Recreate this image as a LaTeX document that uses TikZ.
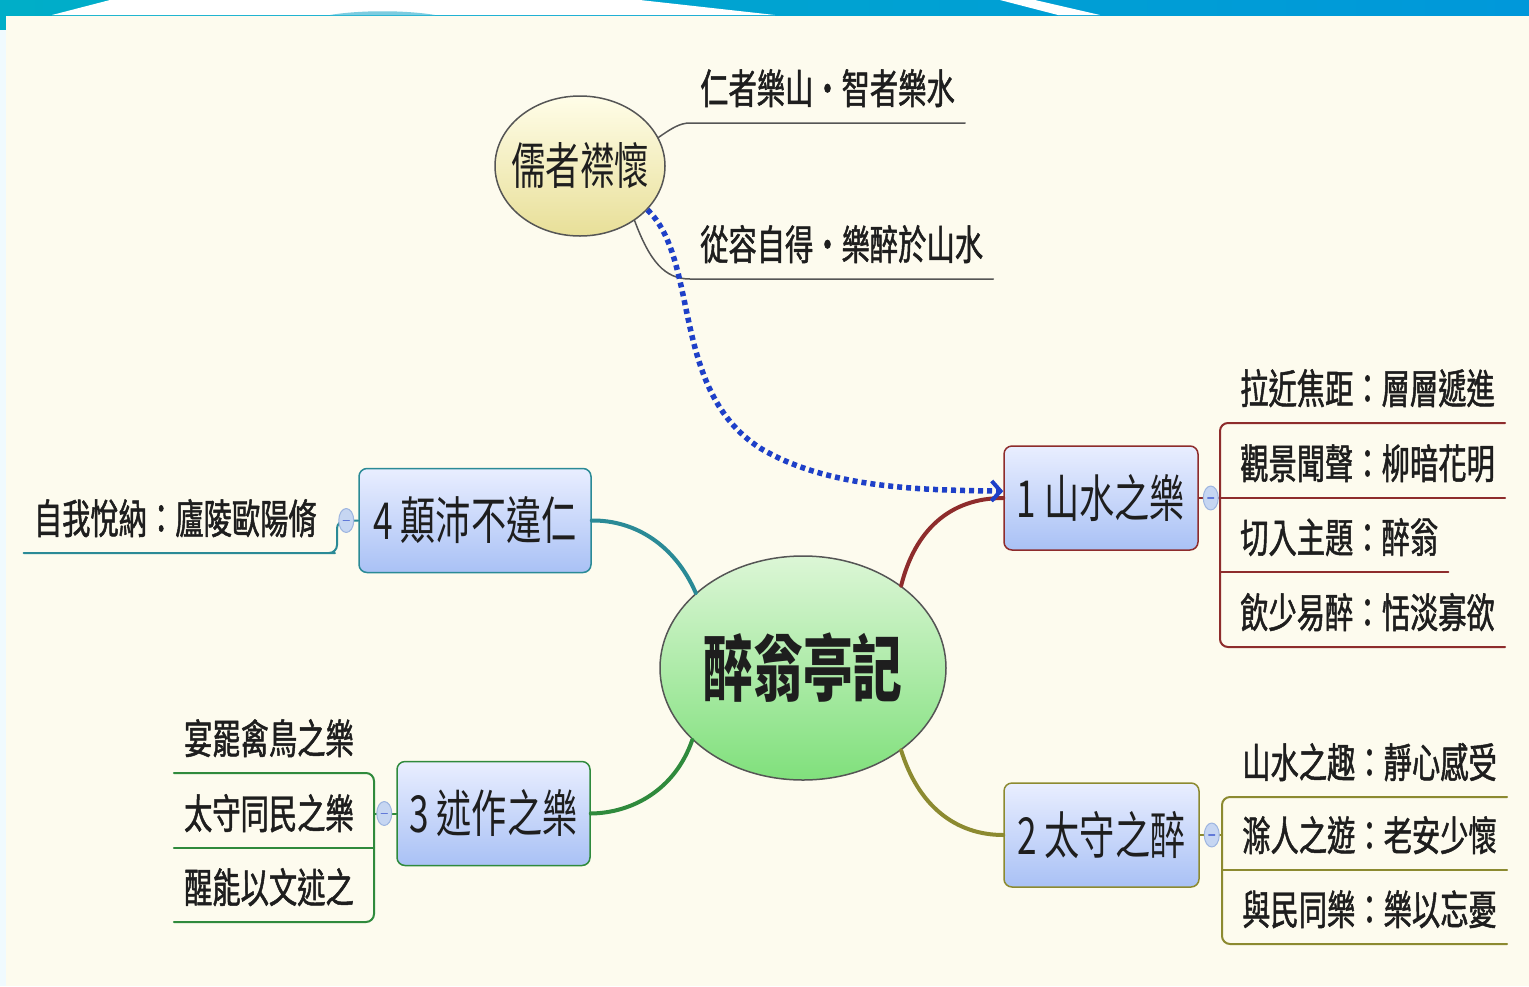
\documentclass[tikz,border=0pt]{standalone}
\usepackage{fontspec}
\usepackage{tikz}
\usetikzlibrary{positioning, shapes.geometric, arrows.meta}

\newfontfamily\cjk[FakeStretch=0.69]{Noto Sans CJK TC}
\newfontfamily\cjkleaf[FakeStretch=0.69, FakeBold=1.2]{Noto Sans CJK TC}
\newcommand\hubfont{\cjk\bfseries\fontsize{72pt}{72pt}\selectfont}
\newcommand\boxfont{\cjk\fontsize{51pt}{51pt}\selectfont}
\newcommand\thinkfont{\cjk\fontsize{50pt}{50pt}\selectfont}
\newcommand\leaffont{\cjkleaf\fontsize{41pt}{41pt}\selectfont}

\definecolor{paper}{HTML}{FDFBEE}
\definecolor{ink}{HTML}{1E1E1E}
\definecolor{bandteal}{HTML}{00AEC8}
\definecolor{bandblue}{HTML}{0098DA}
\definecolor{bandpale}{HTML}{7CCCE0}
\definecolor{cred}{HTML}{8E2C2C}
\definecolor{colive}{HTML}{8C8A30}
\definecolor{cgreen}{HTML}{2F8A3C}
\definecolor{cteal}{HTML}{2A8A96}
\definecolor{cgray}{HTML}{555555}
\definecolor{linkblue}{HTML}{1E40C8}
\definecolor{boxtop}{HTML}{E9EEFF}
\definecolor{boxbot}{HTML}{A9C1F5}
\definecolor{hubtop}{HTML}{DCF6D6}
\definecolor{hubbot}{HTML}{80E07C}
\definecolor{thinktop}{HTML}{FFFDE8}
\definecolor{thinkbot}{HTML}{E8DF98}
\definecolor{knobfill}{HTML}{C6D6F2}
\definecolor{knobedge}{HTML}{9DB5E0}

\begin{document}
\begin{tikzpicture}[x=1pt, y=-1pt, line cap=round, line join=round,
    hub/.style={ellipse, draw=cgray, line width=1.5pt, top color=hubtop, bottom color=hubbot,
      minimum width=286pt, minimum height=224pt, inner sep=0pt, font=\hubfont, text=ink},
    think/.style={ellipse, draw=cgray, line width=1.5pt, top color=thinktop, bottom color=thinkbot,
      minimum width=170pt, minimum height=140pt, inner xsep=-22pt, inner ysep=0pt, font=\thinkfont, text=ink},
    branch/.style={draw=#1, line width=1.5pt, rounded corners=8pt, top color=boxtop, bottom color=boxbot,
      minimum height=104pt, inner sep=0pt, font=\boxfont, text=ink},
    leaf/.style={font=\leaffont, text=ink, inner xsep=10pt, inner ysep=0pt, text depth=19pt},
    limb/.style={draw=#1, line width=4pt},
    twig/.style={draw=#1, line width=2pt},
    knob/.style={ellipse, draw=knobedge, fill=knobfill, line width=1pt, minimum width=15pt,
      minimum height=24pt, inner sep=0pt,
      path picture={\draw[linkblue!70, line width=1.2pt]
        ([xshift=-3pt]path picture bounding box.center) -- ([xshift=3pt]path picture bounding box.center);}},
    link/.style={draw=linkblue, line width=5.5pt, line cap=butt, dash pattern=on 5pt off 4pt}]

    % backdrop
    \useasboundingbox (0,0) rectangle (1529,986);
    \fill[paper] (0,0) rectangle (1529,986);
    \fill[white!94!cyan] (0,15) rectangle (6,986);
    \shade[left color=bandteal, right color=bandblue] (0,0) rectangle (1529,15);
    \fill[white] (52,15) -- (110,0) -- (640,0) -- (775,15) -- cycle;
    \fill[bandpale] (330,15) .. controls (360,10) and (405,10) .. (435,15) -- cycle;
    \fill[white] (1000,0) -- (1035,0) -- (1100,15) -- (1058,15) -- cycle;
    \fill[bandteal] (0,15) rectangle (6,30);

    % central topic
    \node[hub] (c) at (803,668) {醉翁亭記};

    % main branches
    \node[branch=cred,   minimum width=194pt] (b1) at (1101,498) {1 山水之樂};
    \node[branch=colive, minimum width=195pt] (b2) at (1101.5,835) {2 太守之醉};
    \node[branch=cgreen, minimum width=193pt] (b3) at (493.5,813.5) {3 述作之樂};
    \node[branch=cteal,  minimum width=232pt] (b4) at (475,520.5) {4 顛沛不違仁};

    % floating topic
    \node[think] (h) at (580,166) {儒者襟懷};

    % leaves of 1
    \node[leaf, anchor=south west] (t11) at (1230,423) {拉近焦距：層層遞進};
    \node[leaf, anchor=south west] (t12) at (1230,498) {觀景聞聲：柳暗花明};
    \node[leaf, anchor=south west] (t13) at (1230,572) {切入主題：醉翁};
    \node[leaf, anchor=south west] (t14) at (1230,647) {飲少易醉：恬淡寡欲};
    \coordinate (r1) at (1220,498);

    % leaves of 2
    \node[leaf, anchor=south west] (t21) at (1232,797) {山水之趣：靜心感受};
    \node[leaf, anchor=south west] (t22) at (1232,870) {滁人之遊：老安少懷};
    \node[leaf, anchor=south west] (t23) at (1232,944) {與民同樂：樂以忘憂};
    \coordinate (r2) at (1222,835);

    % leaves of 3
    \node[leaf, anchor=south east] (t31) at (364,773) {宴罷禽鳥之樂};
    \node[leaf, anchor=south east] (t32) at (364,848) {太守同民之樂};
    \node[leaf, anchor=south east] (t33) at (364,922) {醒能以文述之};
    \coordinate (r3) at (374,813.5);

    % leaf of 4
    \node[leaf, anchor=south east] (t41) at (327,553) {自我悅納：廬陵歐陽脩};
    \coordinate (r4) at (337,520.5);

    % leaves of the floating topic
    \node[leaf, anchor=south west] (t01) at (690,123) {仁者樂山・智者樂水};
    \node[leaf, anchor=south west] (t02) at (690,279) {從容自得・樂醉於山水};

    % limbs
    \draw[limb=cred]   (c.40)  .. controls (915,530) and (950,498) .. (b1.west);
    \draw[limb=colive] (c.-40) .. controls (918,805) and (955,835) .. (b2.west);
    \draw[limb=cgreen] (c.213) .. controls (675,790) and (632,813) .. (b3.east);
    \draw[limb=cteal]  (c.145) .. controls (675,545) and (635,520) .. (b4.east);

    % twigs of 1
    \draw[twig=cred] (b1.east) -- (t12.south east);
    \draw[twig=cred, rounded corners=8pt] (t11.south east) -- (t11.south west -| r1)
      -- (t14.south west -| r1) -- (t14.south east);
    \draw[twig=cred] (t13.south west -| r1) -- (t13.south east);

    % twigs of 2
    \draw[twig=colive] (b2.east) -- (r2);
    \draw[twig=colive, rounded corners=8pt] (t21.south east) -- (t21.south west -| r2)
      -- (t23.south west -| r2) -- (t23.south east);
    \draw[twig=colive] (t22.south west -| r2) -- (t22.south east);

    % twigs of 3
    \draw[twig=cgreen] (b3.west) -- (r3);
    \draw[twig=cgreen, rounded corners=8pt] (t31.south west) -- (t31.south east -| r3)
      -- (t33.south east -| r3) -- (t33.south west);
    \draw[twig=cgreen] (t32.south east -| r3) -- (t32.south west);

    % twig of 4
    \draw[twig=cteal, rounded corners=8pt] (b4.west) -- (r4) |- (t41.south east) -- (t41.south west);

    % twigs of the floating topic
    \draw[twig=cgray, line width=1.5pt] (h.20) .. controls (672,128) and (680,123) .. (t01.south west) -- (t01.south east);
    \draw[twig=cgray, line width=1.5pt] (h.-45) .. controls (650,262) and (665,279) .. (t02.south west) -- (t02.south east);

    % collapse knobs
    \node[knob] (k1) at ([xshift=12pt]b1.east) {};
    \node[knob] (k2) at ([xshift=12pt]b2.east) {};
    \node[knob] (k3) at ([xshift=-12pt]b3.west) {};
    \node[knob] (k4) at ([xshift=-12pt]b4.west) {};

    % relation
    \draw[link, -{Straight Barb[length=9pt, width=20pt, line width=4pt]}]
      (h.-33) .. controls (700,260) and (670,390) .. (760,448)
      .. controls (830,490) and (930,490) .. (b1.176);
\end{tikzpicture}
\end{document}
